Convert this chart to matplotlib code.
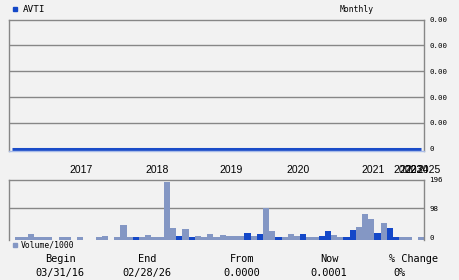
#!/usr/bin/env python3
"""
AVTI Monthly Chart
==================

Preis-Linie oben, Volumen-Balken unten, Kennzahlen darunter.
Speichert das Bild als out.png (460x280).
"""

import numpy as np
import matplotlib
matplotlib.use("Agg")
import matplotlib.pyplot as plt
from matplotlib.ticker import FuncFormatter
from matplotlib.transforms import blended_transform_factory

# Daten
SYMBOL = "AVTI"
PERIOD = "Monthly"

# Monatsbalken (Volumen/1000), nan = kein Balken
volume = [
    np.nan, 0, 0, 10, 0, 0, 0, np.nan, 0, 0,
    np.nan, 0, np.nan, np.nan, 0, 2, np.nan, 0, 41, 0,
    0, 0, 7, 0, 0, 188, 31, 2, 27, 0,
    2, 0, 10, 0, 7, 3, 3, 3, 14, 3,
    10, 98, 22, 0, 0, 10, 3, 10, 1, 0,
    3, 20, 7, 0, 1, 24, 34, 79, 62, 14,
    48, 31, 0, 0, 0, np.nan, 0,
]
# u = hell (steigend), d = dunkel (fallend)
direction = [
    "u", "u", "u", "u", "u", "u", "u", "u", "u", "u",
    "u", "u", "u", "u", "u", "u", "u", "u", "u", "u",
    "d", "u", "u", "u", "u", "u", "u", "d", "u", "d",
    "u", "u", "u", "u", "u", "u", "u", "u", "d", "u",
    "d", "u", "u", "d", "u", "u", "u", "d", "u", "u",
    "d", "d", "u", "u", "d", "d", "u", "u", "u", "d",
    "u", "d", "d", "u", "u", "u", "u",
]
# Preis liegt praktisch durchgehend bei 0.0000
price = [0.0] * len(volume)

# Jahresbeschriftung (Position = Balken-Index)
year_labels = ["2017", "2018", "2019", "2020", "2021", "2022", "2023", "2024", "2025"]
year_pos = [11.2, 23.4, 35.3, 46.2, 58.3, 63.5, 64.4, 65.4, 67.3]

price_ticks = [0.0, 0.0008, 0.0016, 0.0024, 0.0032, 0.004]
volume_ticks = [0, 98, 196]

stat_titles = ["Begin", "End", "From", "Now", "% Change"]
stat_values = ["03/31/16", "02/28/26", "0.0000", "0.0001", "0%"]

# Farben
BG = "#f2f2f2"
GRID = "#878787"
LINE_BLUE = "#1a4cc8"
LIGHT_LINE = "#a9bce8"
BAR_UP = "#8497c4"
BAR_DOWN = "#1448c8"

W, H = 460, 280
MONO = "DejaVu Sans Mono"


def fx(px):
    return px / W


def fy(py):
    return 1 - py / H


fig = plt.figure(figsize=(W / 100, H / 100), dpi=100, facecolor=BG)

# --- Preis-Panel ---
ax = fig.add_axes([fx(9), fy(151), fx(424) - fx(9), fy(19.5) - fy(151)])
ax.set_facecolor(BG)
x = np.arange(len(price))
ax.plot(x, price, color=LINE_BLUE, lw=2.2, solid_capstyle="butt")
ax.set_xlim(-0.5, len(price) - 0.5)
ax.set_ylim(-0.0000712, 0.004)
ax.set_yticks(price_ticks)
ax.yaxis.tick_right()
ax.yaxis.set_major_formatter(FuncFormatter(lambda v, p: "0" if v == 0 else f"{v:.2f}"))
ax.tick_params(axis="y", length=0, pad=4, labelsize=5.4, labelcolor="black")
for lab in ax.get_yticklabels():
    lab.set_fontfamily(MONO)
ax.set_xticks([])
for t in price_ticks[1:-1]:
    ax.axhline(t, color=GRID, lw=1.0, zorder=0)
for side in ["left", "right", "top"]:
    ax.spines[side].set_color(GRID)
    ax.spines[side].set_linewidth(1.0)
ax.spines["bottom"].set_color(LIGHT_LINE)
ax.spines["bottom"].set_linewidth(1.0)

# --- Volumen-Panel ---
axv = fig.add_axes([fx(9), fy(240), fx(424) - fx(9), fy(179.5) - fy(240)])
axv.set_facecolor(BG)
vmin = -10
vol = np.array(volume, dtype=float)
colors = [BAR_UP if d == "u" else BAR_DOWN for d in direction]
axv.bar(x, vol - vmin, bottom=vmin, width=1.0, color=colors, linewidth=0)
axv.set_xlim(-0.5, len(vol) - 0.5)
axv.set_ylim(vmin, 196)
axv.set_yticks(volume_ticks)
axv.yaxis.tick_right()
axv.tick_params(axis="y", length=0, pad=4, labelsize=5.4)
for lab in axv.get_yticklabels():
    lab.set_fontfamily(MONO)
axv.set_xticks([])
axv.axhline(98, color=GRID, lw=1.0, zorder=0)
for side in ["left", "right", "top"]:
    axv.spines[side].set_color(GRID)
    axv.spines[side].set_linewidth(1.0)
axv.spines["bottom"].set_visible(False)

# Jahre zwischen den Panels (die letzten ueberlappen wie im Original)
trans = blended_transform_factory(axv.transData, axv.transAxes)
for pos, lab in zip(year_pos, year_labels):
    axv.text(pos, 1.157, lab, transform=trans, ha="center", va="center",
             fontsize=7.5, family="Liberation Sans", clip_on=False)

# Legenden
fig.patches.append(plt.Rectangle((fx(13), fy(11.3)), fx(4.3), fy(7) - fy(11.3),
                                 transform=fig.transFigure, color=BAR_DOWN))
fig.text(fx(22.5), fy(9.5), SYMBOL, fontsize=6.7, family=MONO, va="center")
fig.text(fx(357), fy(9.5), PERIOD, fontsize=5.8, family=MONO, va="center", ha="center")

fig.patches.append(plt.Rectangle((fx(13), fy(247)), fx(4.3), fy(243) - fy(247),
                                 transform=fig.transFigure, color=BAR_UP))
fig.text(fx(20.5), fy(245), "Volume/1000", fontsize=5.8, family=MONO, va="center")

# Kennzahlen unten
stat_x = [60, 147, 242, 329, 414]
value_x = [60, 147, 242, 329, 400]
for sx, vx, t, v in zip(stat_x, value_x, stat_titles, stat_values):
    fig.text(fx(sx), fy(259), t, fontsize=7.4, family=MONO, ha="center", va="center")
    fig.text(fx(vx), fy(273), v, fontsize=7.4, family=MONO, ha="center", va="center")

fig.savefig("out.png", dpi=100, facecolor=BG)
